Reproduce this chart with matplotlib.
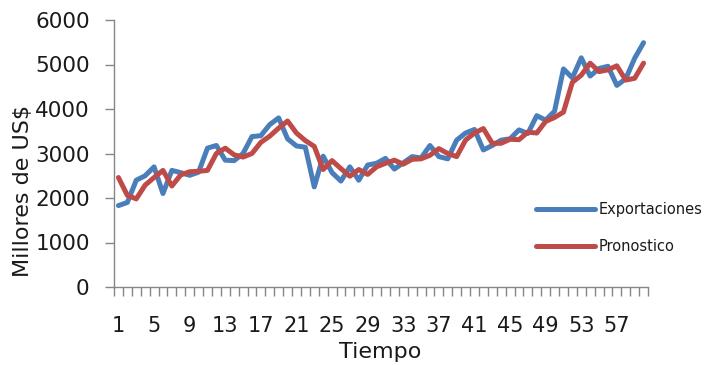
import matplotlib
matplotlib.use("Agg")
import matplotlib.pyplot as plt
from matplotlib.ticker import FixedLocator, NullFormatter

# Monthly series (millions of US$)
periodos = list(range(1, 61))
exportaciones = [
    1830, 1900, 2400, 2500, 2700, 2100, 2620, 2570, 2510, 2580,
    3120, 3180, 2850, 2840, 3000, 3380, 3400, 3650, 3800, 3330,
    3170, 3140, 2250, 2940, 2570, 2380, 2700, 2400, 2740, 2780,
    2890, 2650, 2790, 2930, 2900, 3180, 2930, 2880, 3300, 3460,
    3540, 3080, 3180, 3300, 3330, 3530, 3450, 3850, 3750, 3950,
    4900, 4700, 5150, 4740, 4910, 4960, 4530, 4680, 5140, 5490,
]
pronostico = [
    2460, 2060, 1980, 2290, 2460, 2620, 2270, 2520, 2590, 2600,
    2620, 3000, 3120, 2970, 2920, 3000, 3250, 3390, 3570, 3730,
    3460, 3290, 3160, 2640, 2840, 2660, 2490, 2640, 2530, 2700,
    2780, 2850, 2760, 2870, 2880, 2960, 3110, 3000, 2930, 3300,
    3460, 3560, 3230, 3230, 3320, 3310, 3480, 3460, 3720, 3810,
    3930, 4600, 4760, 5030, 4840, 4880, 4970, 4650, 4690, 5030,
]
etiquetas_x = list(range(1, 61, 4))
valores_y = list(range(0, 6001, 1000))

AZUL = "#4A7EBB"
ROJO = "#BE4B48"
GRIS = "#868686"
TEXTO = "#1a1a1a"

plt.rcParams["font.family"] = ["DejaVu Sans"]

fig = plt.figure(figsize=(7.09, 3.65), dpi=100)
ax = fig.add_axes([114 / 709, 1 - 287 / 365, (648 - 114) / 709, (287 - 20) / 365])

ax.plot(periodos, exportaciones, color=AZUL, lw=3.6, solid_joinstyle="round",
        solid_capstyle="round", label="Exportaciones", zorder=3)
ax.plot(periodos, pronostico, color=ROJO, lw=3.6, solid_joinstyle="round",
        solid_capstyle="round", label="Pronostico", zorder=4)

ax.set_xlim(0.5, len(periodos) + 0.5)
ax.set_ylim(0, 6000)

# Category axis: tick marks between categories, labels every fourth period
ax.xaxis.set_major_locator(FixedLocator(etiquetas_x))
ax.set_xticklabels([str(v) for v in etiquetas_x])
ax.xaxis.set_minor_locator(FixedLocator([p - 0.5 for p in periodos] + [len(periodos) + 0.5]))
ax.xaxis.set_minor_formatter(NullFormatter())
ax.tick_params(axis="x", which="major", length=0, pad=21, labelsize=15, labelcolor=TEXTO)
ax.tick_params(axis="x", which="minor", length=6.5, width=1.0, color=GRIS, direction="out")

ax.set_yticks(valores_y)
ax.set_yticklabels([str(v) for v in valores_y])
ax.tick_params(axis="y", length=6.5, width=1.0, color=GRIS, direction="out",
               pad=11, labelsize=15.5, labelcolor=TEXTO)

for lado in ("top", "right"):
    ax.spines[lado].set_visible(False)
for lado in ("left", "bottom"):
    ax.spines[lado].set_color(GRIS)
    ax.spines[lado].set_linewidth(1.0)

fig.text(380 / 709, 1 - 352 / 365, "Tiempo", ha="center", va="center",
         fontsize=16, color=TEXTO)
fig.text(23 / 709, 1 - 191 / 365, "Millores de US$", ha="center", va="center",
         rotation=90, fontsize=16, color=TEXTO)

leg = ax.legend(loc="center left", bbox_to_anchor=(529 / 709, 1 - 228 / 365),
                bbox_transform=fig.transFigure, frameon=False, fontsize=10.5,
                handlelength=4.0, handletextpad=0.3, labelspacing=1.55,
                borderpad=0.0)
for txt in leg.get_texts():
    txt.set_color(TEXTO)

fig.savefig("out.png", dpi=100, facecolor="white")
